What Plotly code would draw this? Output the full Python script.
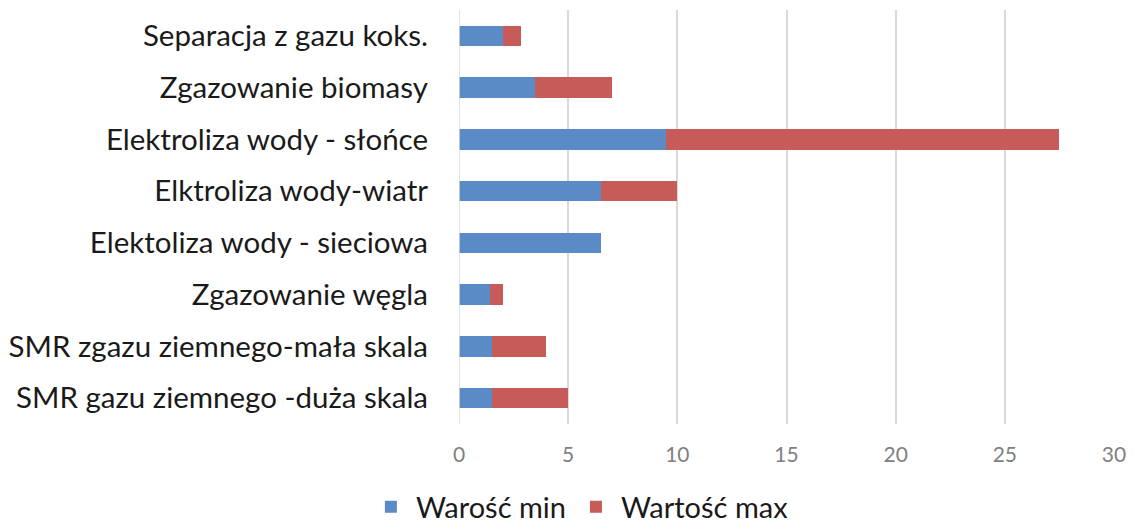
import plotly.graph_objects as go

# kategorie od dołu do góry
kategorie = [
    "SMR gazu ziemnego -duża skala",
    "SMR zgazu ziemnego-mała skala",
    "Zgazowanie węgla",
    "Elektoliza wody - sieciowa",
    "Elktroliza wody-wiatr",
    "Elektroliza wody - słońce",
    "Zgazowanie biomasy",
    "Separacja z gazu koks.",
]
wartosc_min = [1.5, 1.5, 1.4, 6.5, 6.5, 9.5, 3.5, 2.0]
wartosc_max = [5.0, 4.0, 2.0, 6.5, 10.0, 27.5, 7.0, 2.85]

nazwa_min = "Warość min"
nazwa_max = "Wartość max"

przyrost = [mx - mn for mn, mx in zip(wartosc_min, wartosc_max)]

fig = go.Figure()
fig.add_trace(go.Bar(
    y=kategorie, x=wartosc_min, orientation="h",
    name=nazwa_min, marker=dict(color="#5B8BC6", line=dict(width=0)),
))
fig.add_trace(go.Bar(
    y=kategorie, x=przyrost, orientation="h",
    name=nazwa_max, marker=dict(color="#C75B59", line=dict(width=0)),
))

# strona ma 8px marginesu, więc figura jest o tyle mniejsza
fig.update_layout(
    width=1128, height=517,
    barmode="stack",
    bargap=0.6,
    plot_bgcolor="white",
    paper_bgcolor="white",
    margin=dict(l=451, r=22, t=2, b=101),
    font=dict(family="Lato", color="#1a1a1a"),
    xaxis=dict(
        range=[0, 30], dtick=5,
        showgrid=True, gridcolor="#d9d9d9", gridwidth=1.5,
        zeroline=False, showline=False,
        tickfont=dict(size=21, color="#7f7f7f"),
        ticklabelstandoff=16,
        automargin=False,
    ),
    yaxis=dict(
        showgrid=False, zeroline=False,
        showline=False,
        tickfont=dict(size=29.5, color="#1a1a1a"),
        ticklabelstandoff=30,
        automargin=False,
    ),
    shapes=[dict(type="line", xref="x", yref="paper", x0=0, x1=0, y0=0, y1=1,
                 line=dict(color="#d9d9d9", width=1.5))],
    legend=dict(
        orientation="h", xref="container", x=0.507, xanchor="center",
        yref="container", y=0.035, yanchor="middle",
        font=dict(size=29, color="#1a1a1a"),
        traceorder="normal",
        itemwidth=40,
    ),
)

fig.write_html("out.html")
